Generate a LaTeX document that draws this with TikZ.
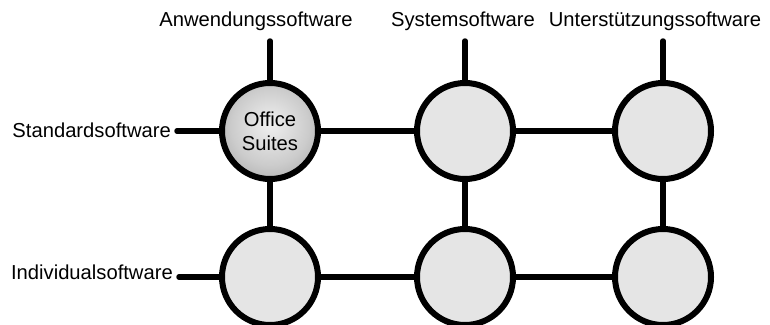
\documentclass[tikz,border=0pt]{standalone}
\usepackage{fontspec}
\setmainfont{Liberation Sans}
\usetikzlibrary{shapes}

\pgfdeclareradialshading{officeball}{\pgfpoint{0bp}{4bp}}{%
  color(0bp)=(black!6); color(20bp)=(black!20); color(48bp)=(black!50); color(50bp)=(black!50)}

\begin{document}
\begin{tikzpicture}[x=1pt,y=-1pt]

% Define cell, wire and label style
\tikzstyle{cell} =[circle, draw, line width=6pt, fill=black!10,
                   minimum size=96pt, inner sep=0pt, align=center,
                   font=\fontsize{20.2}{24}\selectfont]
\tikzstyle{wire} =[line width=5.5pt, line cap=round]
\tikzstyle{lbl}  =[font=\fontsize{20.2}{24}\selectfont, inner sep=0pt]

\useasboundingbox (0,0) rectangle (770,324);

% cells
\node[cell, shading=officeball] (c1) at (270,131) {Office\\Suites};
\node[cell] (c2) at (465,131) {};
\node[cell] (c3) at (663,131) {};
\node[cell] (c4) at (270,277) {};
\node[cell] (c5) at (465,277) {};
\node[cell] (c6) at (663,277) {};

% column and row labels
\node[lbl] (anw) at (256,21) {Anwendungssoftware};
\node[lbl] (sys) at (463,21) {Systemsoftware};
\node[lbl] (unt) at (655,21) {Unterstützungssoftware};
\node[lbl, anchor=east] (std) at (171,130) {Standardsoftware};
\node[lbl, anchor=east] (ind) at (173,272) {Individualsoftware};

% free ends of the stubs
\coordinate (t1) at (270,41);
\coordinate (t2) at (465,41);
\coordinate (t3) at (663,41);
\coordinate (l1) at (177,131);
\coordinate (l2) at (179,277);

\foreach \a in {1,2,3}{
  \draw[wire] (t\a) -- (c\a);
}
\draw[wire] (l1) -- (c1);
\draw[wire] (l2) -- (c4);

\draw[wire] (c1) -- (c2);
\draw[wire] (c2) -- (c3);
\draw[wire] (c4) -- (c5);
\draw[wire] (c5) -- (c6);
\draw[wire] (c1) -- (c4);
\draw[wire] (c2) -- (c5);
\draw[wire] (c3) -- (c6);

\end{tikzpicture}
\end{document}
